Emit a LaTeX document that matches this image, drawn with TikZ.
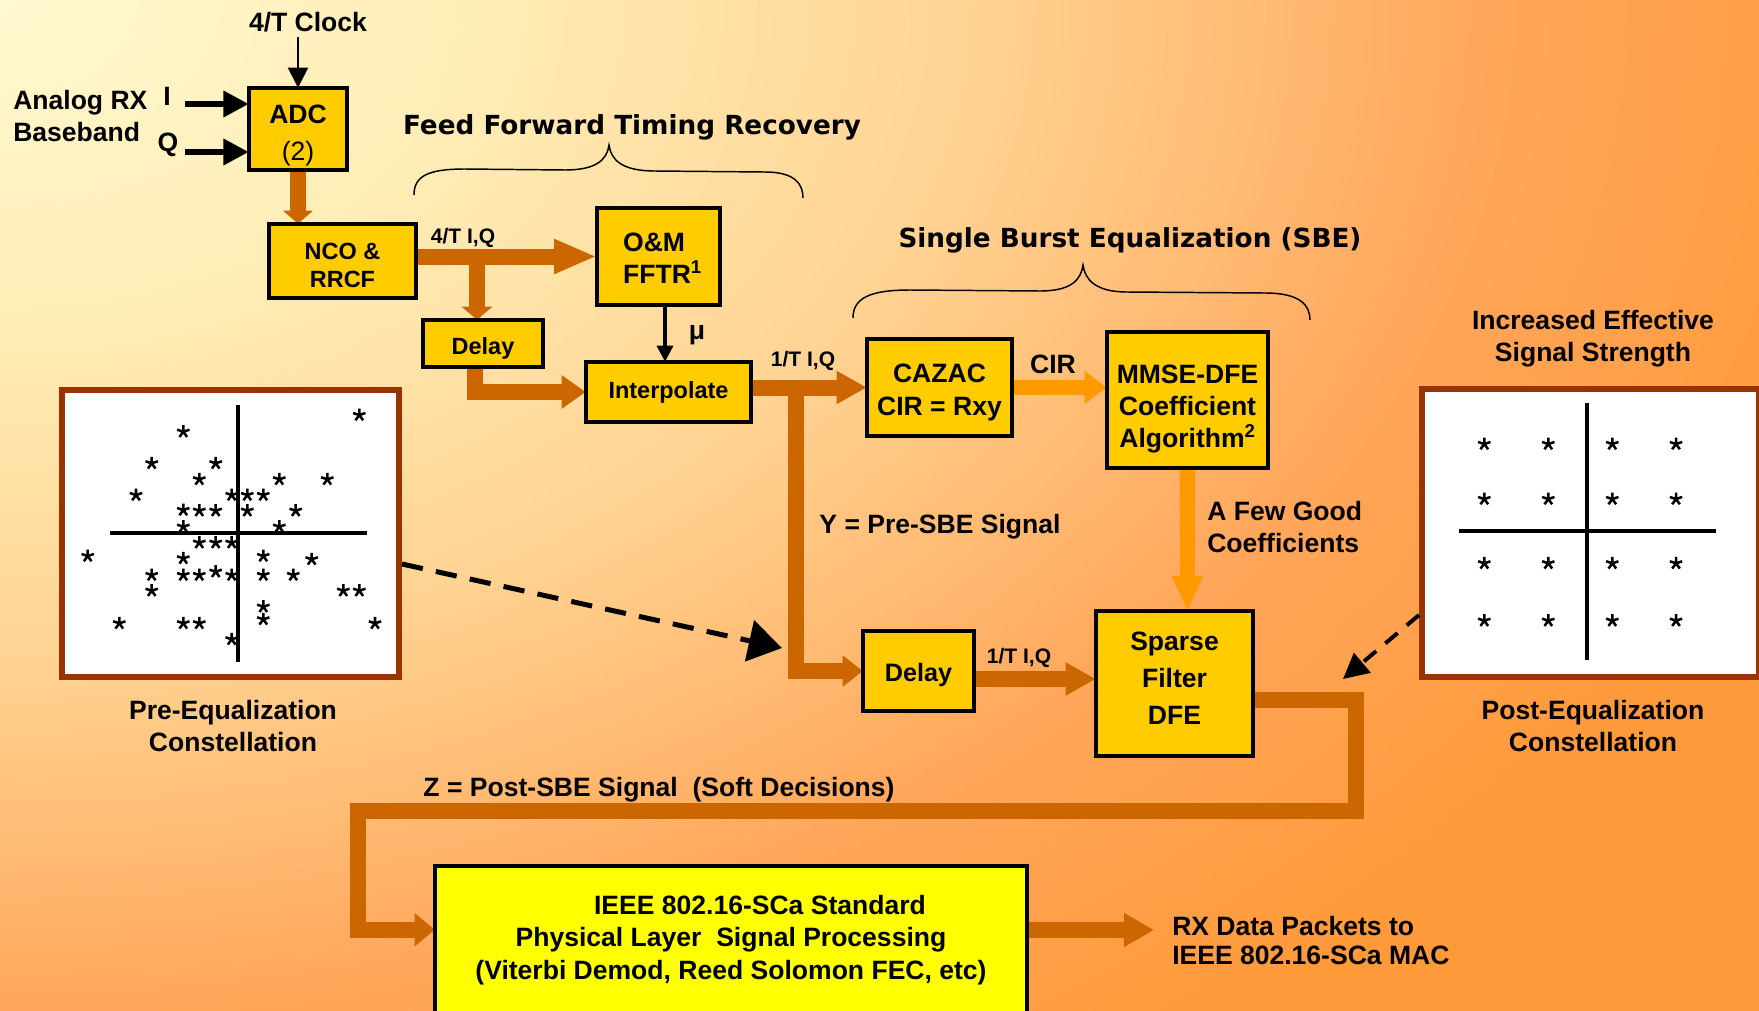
\documentclass[tikz,border=0pt]{standalone}
\usepackage{fontspec}
\setmainfont{Liberation Sans}
\newfontfamily\titlefam{DejaVu Sans}
\usetikzlibrary{arrows.meta,calc}

% palette
\definecolor{bgA}{HTML}{FFF9D0}
\definecolor{bgB}{HTML}{FFEDB6}
\definecolor{bgC}{HTML}{FFD494}
\definecolor{bgD}{HTML}{FFC07A}
\definecolor{bgE}{HTML}{FFA65A}
\definecolor{bgF}{HTML}{FF9A3A}
\definecolor{boxgold}{HTML}{FFCC00}
\definecolor{ieeey}{HTML}{FFFF00}
\definecolor{fatc}{HTML}{CC6600}
\definecolor{softc}{HTML}{FF9900}
\definecolor{brownc}{HTML}{993300}

% warm glow spreading from the upper left corner
\pgfdeclareradialshading{bgglow}{\pgfpointorigin}{color(0bp)=(bgA); color(4bp)=(bgB); color(8bp)=(bgC); color(10bp)=(bgD); color(12.5bp)=(bgE); color(16.25bp)=(bgF); color(100bp)=(bgF)}

\newcommand\lblfont{\fontsize{19.9pt}{24pt}\selectfont\bfseries}
\newcommand\smfont{\fontsize{17.6pt}{21.4pt}\selectfont\bfseries}
\newcommand\mdfont{\fontsize{18.9pt}{24pt}\selectfont\bfseries}
\newcommand\ratefont{\fontsize{15.75pt}{18pt}\selectfont\bfseries}
\newcommand\ttlfont{\fontsize{19.7pt}{24pt}\selectfont\titlefam\bfseries}
% invisible struts that nudge a text block inside its box
\newcommand\hitop[1]{\rule{0pt}{#1}}
\newcommand\lobot[1]{\rule[-#1]{0pt}{#1}}

\begin{document}
\begin{tikzpicture}[x=0.75pt,y=-0.75pt,
  blk/.style={draw=black, line width=1.9pt, fill=boxgold, inner sep=0pt, align=center, font=\lblfont},
  sz/.style 2 args={minimum width=#1*0.75pt, minimum height=#2*0.75pt},
  cbox/.style={draw=brownc, line width=4.5pt, fill=white, inner sep=0pt},
  fat/.style={draw=fatc, line width=12pt, line cap=butt, line join=miter},
  soft/.style={draw=softc, line width=11.5pt, line cap=butt},
  lbl/.style={inner sep=0pt, font=\lblfont, align=center},
  ttl/.style={inner sep=0pt, font=\ttlfont},
  rate/.style={inner sep=0pt, font=\ratefont},
  curly/.style={draw=black, line width=1.1pt},
  axis/.style={draw=black, line width=3pt},
  astk/.pic={\draw[line width=1.9pt] (0,0)--(-90:6.5) (0,0)--(-18:6.5) (0,0)--(-162:6.5) (0,0)--(54:6.5) (0,0)--(126:6.5);}
]
\useasboundingbox (0,0) rectangle (1759,1010);
\clip (0,0) rectangle (1759,1010);
\shade[shading=bgglow] (-2990,-2020) rectangle (2990,2020);

% group braces
\draw[curly] (414,195) .. controls (414,176) and (428,169) .. (465,169) -- (565,170)
  .. controls (596,170) and (607,160) .. (609,145)
  .. controls (611,160) and (622,171) .. (655,171) -- (765,172)
  .. controls (795,172) and (803,184) .. (803,198);
\draw[curly] (853,318) .. controls (853,298) and (870,290) .. (910,290) -- (1040,291)
  .. controls (1071,291) and (1081,280) .. (1083,265)
  .. controls (1085,280) and (1096,292) .. (1127,292) -- (1265,293)
  .. controls (1300,293) and (1310,305) .. (1310,320);

% blocks
\node[blk, sz={96}{80}] (adc) at (298,129) {\hitop{23.25pt}ADC\\[4pt]{\mdseries (2)}};
\node[blk, sz={145}{72}, font=\smfont] (nco) at (342.5,261) {\hitop{18.9pt}NCO \&\\RRCF};
\node[blk, sz={121}{95}, align=left] (om) at (658.5,256.5) {\hitop{17pt}\hspace*{6pt}O\&M\\\hspace*{6pt}FFTR\textsuperscript{1}};
\node[blk, sz={118}{45}, font=\smfont] (dly1) at (483,343.5) {\hitop{20.3pt}Delay};
\node[blk, sz={163}{58}, font=\smfont] (interp) at (668.5,392) {Interpolate};
\node[blk, sz={143}{95}] (cazac) at (939.5,387.5) {\hitop{21pt}CAZAC\\[0.75pt]CIR = Rxy};
\node[blk, sz={159}{134}] (mmse) at (1187.5,400) {\hitop{27pt}MMSE-DFE\\Coefficient\\Algorithm\textsuperscript{2}};
\node[blk, sz={109}{78}, font=\mdfont] (dly2) at (918.5,671) {\hitop{19.8pt}Delay};
\node[blk, sz={155}{143}] (sparse) at (1174.5,683.5) {Sparse\\[4pt]Filter\\[4pt]DFE\lobot{8pt}};
\node[blk, fill=ieeey, sz={590}{186}] (ieee) at (731,960) {};

% constellation frames
\node[cbox, sz={337}{287}] (prebox) at (230.5,533.5) {};
\node[cbox, sz={337}{288}] (postbox) at (1590.5,533) {};

% helper points for connectors
\coordinate (clk) at (298,37);
\coordinate (iin) at (185,104);
\coordinate (qin) at (185,152);
\coordinate (mus) at ($(om.south)+(6.5,0)$);
\coordinate (ybr) at ($(interp.east |- cazac.west)+(44.5,0)$);
\coordinate (d2o) at ($(dly2.east)+(0,8)$);
\coordinate (sout) at ($(sparse.east)+(0,16.5)$);
\coordinate (zr) at (1355.5,811);
\coordinate (zl) at (357.5,811);
\coordinate (zin) at ($(ieee.north west)+(0,64)$);
\coordinate (ieeeo) at ($(ieee.north east)+(0,64)$);
\coordinate (outtip) at (1154,930);
\coordinate (pres) at ($(prebox.east)+(0,30.5)$);
\coordinate (pretip) at (782,648);
\coordinate (posts) at ($(postbox.west)+(0,82)$);
\coordinate (posttip) at (1343,679);

% wide signal paths
\draw[fat, -{Triangle[width=21.75pt,length=9.75pt]}] (adc.south) -- (adc.south |- nco.north);
\draw[fat, -{Triangle[width=24pt,length=32pt]}] (nco.east |- om.west) -- (om.west);
\draw[fat, -{Triangle[width=22.5pt,length=9.75pt]}] ($(dly1.north |- om.west)+(-6,0)$) -- ($(dly1.north)+(-6,0)$);
\draw[fat, -{Triangle[width=24pt,length=18pt]}] ($(dly1.south)+(-8,0)$) |- (interp.west);
\draw[fat, -{Triangle[width=23.25pt,length=22.5pt]}] (interp.east |- cazac.west) -- (cazac.west);
\draw[fat, -{Triangle[width=22.5pt,length=15pt]}] (ybr) |- (dly2.west);
\draw[soft, -{Triangle[width=23.25pt,length=16.5pt]}] (cazac.east) -- (cazac.east -| mmse.west);
\draw[soft, -{Triangle[width=21.75pt,length=26pt]}] (mmse.south) -- (mmse.south |- sparse.north);
\draw[fat, -{Triangle[width=23.25pt,length=22.5pt]}] (d2o) -- (d2o -| sparse.west);
\draw[fat, -{Triangle[width=24pt,length=15pt]}] (sout) -| (zr) -- (zl) |- (zin);
\draw[fat, -{Triangle[width=24pt,length=22.5pt]}] (ieeeo) -- (outtip);

% thin black inputs
\draw[line width=1.5pt, -{Triangle[width=15pt,length=15pt]}] (clk) -- (adc.north);
\draw[line width=4.3pt, -{Triangle[width=19pt,length=19pt]}] (iin) -- (iin -| adc.west);
\draw[line width=4.3pt, -{Triangle[width=19pt,length=19pt]}] (qin) -- (qin -| adc.west);
\draw[line width=2.5pt, -{Triangle[width=12pt,length=12pt]}] (mus) -- (mus |- interp.north);

% redraw block outlines over the path ends
\foreach \b in {adc,nco,om,dly1,interp,cazac,mmse,dly2,sparse,ieee}
  \draw[line width=1.9pt] (\b.north west) rectangle (\b.south east);

% constellation comparison arrows
\draw[line width=3.75pt, dash pattern=on 16pt off 10pt, -{Triangle[width=31pt,length=25pt]}] (pres) -- (pretip);
\draw[line width=3pt, dash pattern=on 12pt off 9pt, -{Triangle[width=19pt,length=19pt]}] (posts) -- (posttip);

% pre-equalization scatter
\draw[axis] (238,405) -- (238,662);
\draw[axis] (110,533) -- (367,533);
\foreach \p in {(359.3,415),(183.3,431.7),(151.7,463.3),(215.7,463.3),(199.3,479.3),(279.3,479.3),(327.3,479.3),(136,495),(231.7,495),(247.3,495),(263.3,495),(183.3,510),(199.3,510.7),(215.7,510.7),(247.3,510.7),(295.7,510.7),(183.3,526.7),(279.3,526.7),(199.3,542.7),(215.7,542.7),(231.7,542.7),(87.7,556),(183.3,558.3),(263.3,556),(311.7,559.3),(151.7,575),(183.3,575),(199.3,575),(215.7,571.7),(231.7,575),(263.3,575),(293.3,575),(151.7,590.7),(343.3,590.7),(359.3,590.7),(263.3,606.7),(119.3,623.3),(183.3,623.3),(199.3,623.3),(263.3,619.3),(375,623.3),(231.7,639.3)}
  \pic at \p {astk};

% post-equalization grid
\draw[axis] (1587,403) -- (1587,660);
\draw[axis] (1459,531) -- (1716,531);
\foreach \cx in {1484.3,1548.3,1612.3,1676}
  \foreach \cy in {444,499,563.3,620.7}
    \pic at (\cx,\cy) {astk};

% labels
\node[lbl] (clock) at (308,22) {4/T Clock};
\node[lbl, align=left, anchor=west] (analog) at (13,116) {Analog RX\\Baseband};
\node[lbl] (ilbl) at (167,96) {I};
\node[lbl] (qlbl) at (168,145) {Q};
\node[ttl] (fftrt) at (632,127) {Feed Forward Timing Recovery};
\node[rate] (r4) at (463,238) {4/T I,Q};
\node[lbl] (mu) at (697,335) {μ};
\node[rate] (r1a) at (803,361) {1/T I,Q};
\node[ttl] (sbet) at (1130,240) {Single Burst Equalization (SBE)};
\node[lbl] (cirl) at (1053,364) {CIR};
\node[lbl] (ysig) at (940,527) {Y = Pre-SBE Signal};
\node[lbl, align=left, anchor=west] (few) at (1207,527.5) {A Few Good\\Coefficients};
\node[rate] (r1b) at (1019,658) {1/T I,Q};
\node[lbl] (zsig) at (659,790) {Z = Post-SBE Signal\ \ (Soft Decisions)};
\node[lbl, font=\fontsize{19.9pt}{24.4pt}\selectfont\bfseries] (ieeetxt) at (731,940)
  {\hspace*{43.5pt}IEEE 802.16-SCa Standard\\Physical Layer\ \ Signal Processing\\(Viterbi Demod, Reed Solomon FEC, etc)};
\node[lbl, align=left, anchor=west, font=\fontsize{19.9pt}{21.75pt}\selectfont\bfseries] (rxout) at (1172,941) {RX Data Packets to\\IEEE 802.16-SCa MAC};
\node[lbl] (inc) at (1593,339) {Increased Effective\\Signal Strength};
\node[lbl] (precap) at (233,726) {Pre-Equalization\\Constellation};
\node[lbl] (postcap) at (1593,726) {Post-Equalization\\Constellation};
\end{tikzpicture}
\end{document}
